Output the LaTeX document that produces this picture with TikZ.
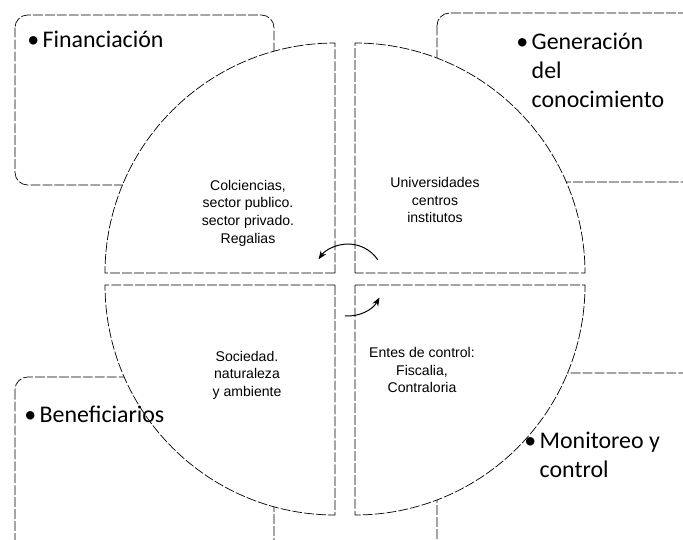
\documentclass[tikz,border=0pt]{standalone}
\usepackage{fontspec}
\setmainfont{Carlito}
\newfontfamily\arialfont{Liberation Sans}
\usetikzlibrary{arrows.meta}
\tikzset{
  panel/.style={draw=black, line width=.5pt, dash pattern=on 7pt off 1.5pt, rounded corners=9pt},
  quarter/.style={draw=black, fill=white, line width=.5pt, dash pattern=on 7pt off 1.5pt},
  actor/.style={font=\fontsize{17}{20.6}\selectfont, align=left, anchor=north west, inner sep=0pt},
  member/.style={font=\arialfont\fontsize{10}{12.5}\selectfont, align=center, inner sep=0pt},
  turn/.style={-Stealth, line width=.7pt},
}

\begin{document}
\begin{tikzpicture}[x=0.025cm, y=0.025cm]

\clip (0,0) rectangle (683,-539);
\fill[white] (0,0) rectangle (683,-539);

%%%%%%%%%%%%%%
% Corner boxes
%%%%%%%%%%%%%%
\draw[panel] (15,-15) rectangle (274,-185);
\draw[panel] (437,-13) rectangle (695,-182);
\draw[panel] (15,-377) rectangle (274,-560);
\draw[panel] (437,-373) rectangle (695,-560);

%%%%%%%%%%%%%%
% Circle quarters
%%%%%%%%%%%%%%
  % corners
  \coordinate (TL) at (335,-273);
  \coordinate (TR) at (355,-273);
  \coordinate (BL) at (335,-285);
  \coordinate (BR) at (355,-285);

  % sectors
  \draw[quarter] (TL) -- ++(-230,0) arc[start angle=180, end angle=90, radius=230] -- cycle;
  \draw[quarter] (TR) -- ++(0,230) arc[start angle=90, end angle=0, radius=230] -- cycle;
  \draw[quarter] (BR) -- ++(230,0) arc[start angle=0, end angle=-90, radius=230] -- cycle;
  \draw[quarter] (BL) -- ++(0,-230) arc[start angle=270, end angle=180, radius=230] -- cycle;

% Center arrows
\coordinate (C) at (348,-280);
\draw[turn] ([shift={(34:36)}]C) arc[start angle=34, end angle=145, radius=36];
\draw[turn] ([shift={(-95:36)}]C) arc[start angle=-95, end angle=-29, radius=36];

%%%%%%%%%%%%%%
% Labels
%%%%%%%%%%%%%%
  \node[actor] (fin) at (27,-31) {\textbullet\kern2.5pt Financiación};
  \node[actor] (gen) at (516,-33)
        {\textbullet\kern2.5pt Generación\\\hphantom{\textbullet\kern2.5pt}del\\\hphantom{\textbullet\kern2.5pt}conocimiento};
  \node[actor] (ben) at (24,-406) {\textbullet\kern2.5pt Beneficiarios};
  \node[actor] (mon) at (524,-432)
        {\textbullet\kern2.5pt Monitoreo y\\\hphantom{\textbullet\kern2.5pt}control};

% Sector texts
  \node[member] (colc) at (248,-213) {Colciencias,\\sector publico.\\sector privado.\\Regalias};
  \node[member] (univ) at (435,-200) {Universidades\\centros\\institutos};
  \node[member] (soc) at (247,-375) {Sociedad.\\naturaleza\\y ambiente};
  \node[member] (entes) at (422,-370) {Entes de control:\\Fiscalia,\\Contraloria};

\end{tikzpicture}
\end{document}
